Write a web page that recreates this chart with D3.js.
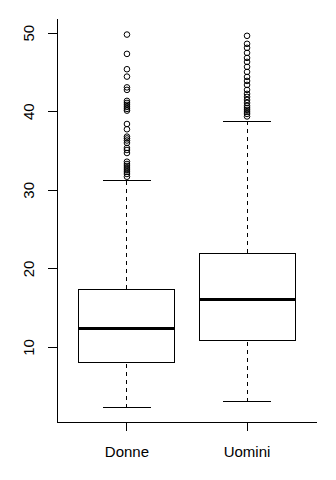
<!DOCTYPE html>
<html>
<head>
<meta charset="utf-8">
<script src="https://cdn.jsdelivr.net/npm/d3@7"></script>
<style>
  body { margin: 0; background: #fff; }
  text { font-family: "Liberation Sans", Arial, sans-serif; font-size: 15px; fill: #000; }
  line, rect, path { shape-rendering: crispEdges; }
</style>
</head>
<body>
<div id="chart"></div>
<script>
// boxplot summary
var groups = ["Donne", "Uomini"];
var lowWhisker = [2.36, 3.12];
var q1 = [8.09, 10.93];
var medians = [12.42, 16.11];
var q3 = [17.39, 21.97];
var highWhisker = [31.27, 38.74];
var outDonne = [49.82, 47.36, 45.41, 44.47, 43.1, 42.78, 41.38, 41.12, 40.87, 40.61, 40.36, 40.14,
  38.44, 37.77, 36.83, 36.6, 36.34, 36.03, 35.39, 35.13, 34.75,
  33.64, 33.35, 33.1, 32.84, 32.59, 32.34, 32.08, 31.73];
var outUomini = [49.66, 48.64, 48.13, 47.49, 46.85, 46.34, 45.71, 45.07, 44.43, 43.92, 43.41,
  42.78, 42.27, 41.89, 41.5, 41.12, 40.74, 40.48, 40.23, 39.97, 39.72, 39.4];
var outliers = [outDonne, outUomini];
var yTicks = [10, 20, 30, 40, 50];

var width = 336, height = 480;

var svg = d3.select("#chart").append("svg")
    .attr("width", width)
    .attr("height", height);

var x = d3.scaleLinear().domain([0.42, 2.58]).range([57.3, 316.7]);
var y = d3.scaleLinear().domain([0.48, 51.8]).range([422.3, 19]);

var boxW = 0.8;

// L-shaped frame
svg.append("path")
    .attr("d", "M" + x(0.42) + "," + y(51.8) + "V" + y(0.48) + "H" + x(2.58))
    .attr("fill", "none")
    .attr("stroke", "#000")
    .attr("stroke-width", 1);

// y axis
var yAxis = svg.append("g").attr("transform", "translate(" + x(0.42) + ",0)");
yAxis.selectAll("line").data(yTicks).enter().append("line")
    .attr("x1", 0).attr("x2", -9)
    .attr("y1", function(d) { return y(d); })
    .attr("y2", function(d) { return y(d); })
    .attr("stroke", "#000");
yAxis.selectAll("text").data(yTicks).enter().append("text")
    .attr("transform", function(d) { return "translate(-23.5," + y(d) + ") rotate(-90)"; })
    .attr("text-anchor", "middle")
    .text(function(d) { return d; });

// x axis
var xAxis = svg.append("g").attr("transform", "translate(0," + y(0.48) + ")");
xAxis.selectAll("line").data(groups).enter().append("line")
    .attr("x1", function(d, i) { return x(i + 1); })
    .attr("x2", function(d, i) { return x(i + 1); })
    .attr("y1", 0).attr("y2", 9)
    .attr("stroke", "#000");
xAxis.selectAll("text").data(groups).enter().append("text")
    .attr("x", function(d, i) { return x(i + 1); })
    .attr("y", 34.4)
    .attr("text-anchor", "middle")
    .text(function(d) { return d; });

// boxes
var g = svg.selectAll(".box").data(groups).enter().append("g").attr("class", "box");

g.append("line") // lower whisker
    .attr("x1", function(d, i) { return x(i + 1); })
    .attr("x2", function(d, i) { return x(i + 1); })
    .attr("y1", function(d, i) { return y(lowWhisker[i]); })
    .attr("y2", function(d, i) { return y(q1[i]); })
    .attr("stroke", "#000").attr("stroke-dasharray", "4,4");
g.append("line") // upper whisker
    .attr("x1", function(d, i) { return x(i + 1); })
    .attr("x2", function(d, i) { return x(i + 1); })
    .attr("y1", function(d, i) { return y(q3[i]); })
    .attr("y2", function(d, i) { return y(highWhisker[i]); })
    .attr("stroke", "#000").attr("stroke-dasharray", "4,4");
g.append("line") // low cap
    .attr("x1", function(d, i) { return x(i + 1 - boxW / 4); })
    .attr("x2", function(d, i) { return x(i + 1 + boxW / 4); })
    .attr("y1", function(d, i) { return y(lowWhisker[i]); })
    .attr("y2", function(d, i) { return y(lowWhisker[i]); })
    .attr("stroke", "#000");
g.append("line") // high cap
    .attr("x1", function(d, i) { return x(i + 1 - boxW / 4); })
    .attr("x2", function(d, i) { return x(i + 1 + boxW / 4); })
    .attr("y1", function(d, i) { return y(highWhisker[i]); })
    .attr("y2", function(d, i) { return y(highWhisker[i]); })
    .attr("stroke", "#000");
g.append("rect")
    .attr("x", function(d, i) { return x(i + 1 - boxW / 2); })
    .attr("width", function(d, i) { return x(i + 1 + boxW / 2) - x(i + 1 - boxW / 2); })
    .attr("y", function(d, i) { return y(q3[i]); })
    .attr("height", function(d, i) { return y(q1[i]) - y(q3[i]); })
    .attr("fill", "none").attr("stroke", "#000");
g.append("line") // median
    .attr("x1", function(d, i) { return x(i + 1 - boxW / 2); })
    .attr("x2", function(d, i) { return x(i + 1 + boxW / 2); })
    .attr("y1", function(d, i) { return y(medians[i]); })
    .attr("y2", function(d, i) { return y(medians[i]); })
    .attr("stroke", "#000").attr("stroke-width", 3);

g.each(function(d, i) {
  d3.select(this).selectAll("circle").data(outliers[i]).enter().append("circle")
      .attr("cx", x(i + 1))
      .attr("cy", function(v) { return y(v); })
      .attr("r", 2.8)
      .attr("fill", "none")
      .attr("stroke", "#000");
});
</script>
</body>
</html>
